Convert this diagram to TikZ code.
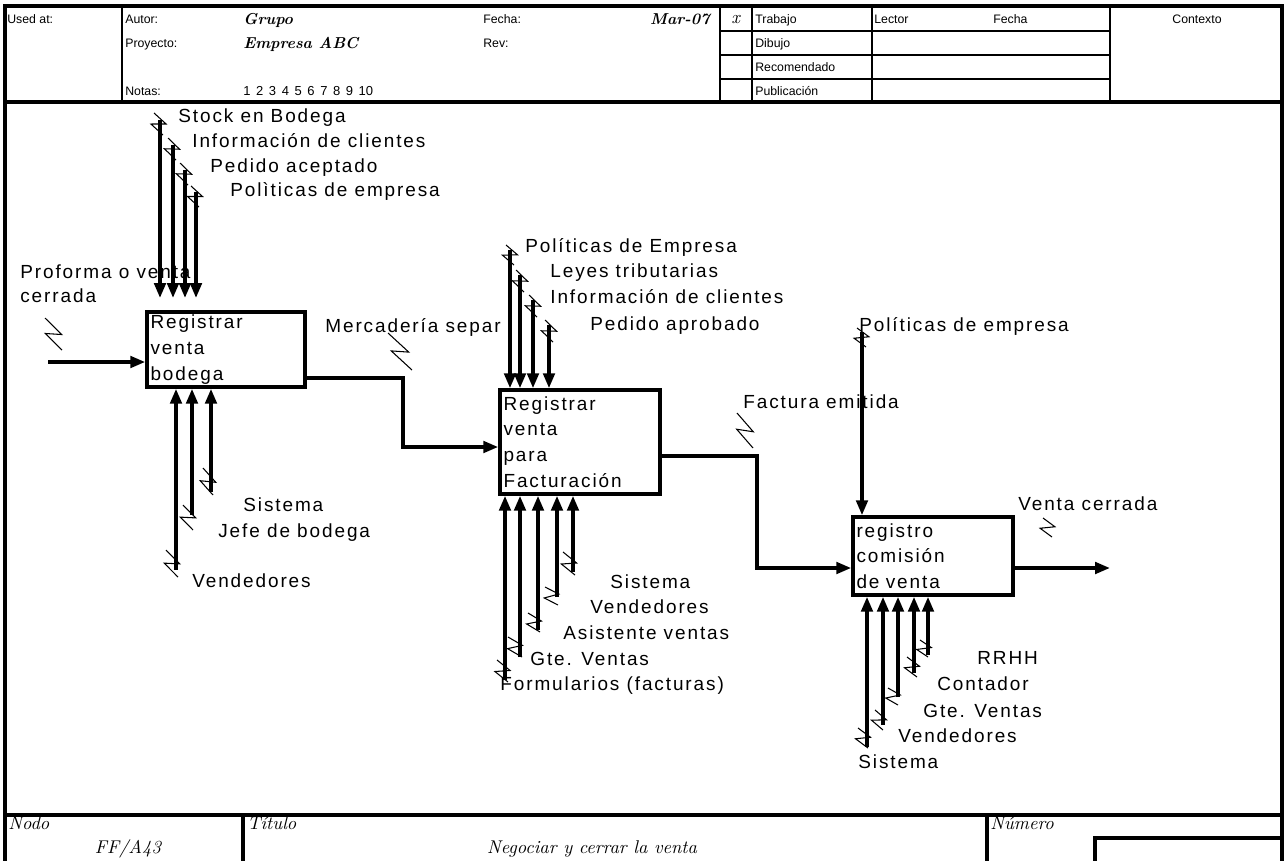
\documentclass[tikz,border=0pt]{standalone}
\usepackage{fontspec}
\usepackage{tikz}
\usetikzlibrary{arrows.meta, positioning, calc}
\newfontfamily\arialfont{Liberation Sans}
\newfontfamily\flowfont{Liberation Sans}[LetterSpace=10]

\newcommand\squig[2]{\draw[squigline] (#1) -- ($(#1)!0.62!(#2)!4pt!90:(#2)$) -- ($(#1)!0.38!(#2)!4pt!-90:(#2)$) -- (#2);}

\begin{document}
\begin{tikzpicture}[
    x=0.02cm, y=-0.02cm,
    border/.style={line width=2pt},
    rule/.style={line width=1.5pt},
    proc/.style={
        draw, line width=2pt, rectangle,
        inner xsep=2pt, inner ysep=1pt, align=left,
        font=\flowfont\fontsize{10.8}{14.6}\selectfont
    },
    lbl/.style={anchor=base west, inner sep=0pt, font=\flowfont\fontsize{10.8}{12}\selectfont},
    hdr/.style={anchor=base west, inner sep=0pt, font=\arialfont\fontsize{7}{8}\selectfont},
    hand/.style={anchor=base west, inner sep=0pt, font=\rmfamily\itshape\fontsize{10.5}{11}\selectfont},
    handbold/.style={anchor=base west, inner sep=0pt, font=\rmfamily\bfseries\itshape\fontsize{9}{10}\selectfont},
    arr/.style={-{Triangle[length=8.5pt, width=6.5pt]}, line width=2pt},
    squigline/.style={line width=0.6pt},
]
\useasboundingbox (0,0) rectangle (1286,860);

% sheet frame
\draw[border] (5,865) -- (5,6) -- (1282,6) -- (1282,865);
\draw[border] (5,102) -- (1282,102);
\draw[border] (5,815) -- (1282,815);
\draw[rule] (122,6) -- (122,102);
\draw[rule] (720,6) -- (720,102);
\draw[rule] (752,6) -- (752,102);
\draw[rule] (872,6) -- (872,102);
\draw[rule] (1110,6) -- (1110,102);
\draw[rule] (720,31) -- (1110,31);
\draw[rule] (720,55) -- (1110,55);
\draw[rule] (720,79) -- (1110,79);
\draw[border] (243,815) -- (243,865);
\draw[border] (987,815) -- (987,865);
\draw[border] (1095,865) -- (1095,838) -- (1282,838);

% header
\node[hdr] (usedAt) at (7,23) {Used at:};
\node[hdr] (autor) at (125,23) {Autor:};
\node[handbold] (grupo) at (243,24) {Grupo};
\node[hdr] (fecha) at (483,23) {Fecha:};
\node[handbold, anchor=base east] (mar) at (710,24) {Mar-07};
\node[hand] (xmark) at (731,23) {x};
\node[hdr] (trabajo) at (755,23) {Trabajo};
\node[hdr] (lector) at (874,23) {Lector};
\node[hdr] (fechaLect) at (993,23) {Fecha};
\node[hdr, anchor=base] (contexto) at (1197,23) {Contexto};
\node[hdr] (proyecto) at (125,47) {Proyecto:};
\node[handbold] (empresa) at (243,48) {Empresa ABC};
\node[hdr] (rev) at (483,47) {Rev:};
\node[hdr] (dibujo) at (755,47) {Dibujo};
\node[hdr] (recomendado) at (755,71) {Recomendado};
\node[hdr] (notas) at (125,95) {Notas:};
\node[hdr, font=\arialfont\fontsize{7.4}{8}\selectfont] (numeros) at (243,95) {\spaceskip=0.43em\relax 1 2 3 4 5 6 7 8 9 10};
\node[hdr] (publicacion) at (755,95) {Publicación};

% footer
\node[hand] (nodo) at (8,829) {Nodo};
\node[hand, anchor=base] (ffa) at (128,853) {FF/A43};
\node[hand] (titulo) at (247,829) {Título};
\node[hand, anchor=base] (negociar) at (592,853) {Negociar y cerrar la venta};
\node[hand] (numero) at (990,829) {Número};

% activities
\node[proc, text width=3.02cm, minimum height=1.5cm] (regA) at (226,349.5) {Registrar\\venta\\bodega};
\node[proc, text width=3.06cm, minimum height=2.08cm] (regB) at (580,442) {Registrar\\venta\\para\\Facturación};
\node[proc, text width=3.06cm, minimum height=1.56cm] (regC) at (933,556) {registro\\comisión\\de venta};

% labels
\node[lbl] (lProforma) at (20,278) {Proforma o venta};
\node[lbl] (lCerrada) at (20,302) {cerrada};
\node[lbl] (lStock) at (178,122) {Stock en Bodega};
\node[lbl] (lInfoA) at (192,147) {Información de clientes};
\node[lbl] (lPedidoA) at (210,172) {Pedido aceptado};
\node[lbl] (lPolA) at (230,196) {Polìticas de empresa};
\node[lbl] (lSistA) at (243,511) {Sistema};
\node[lbl] (lJefe) at (218,537) {Jefe de bodega};
\node[lbl] (lVendA) at (192,587) {Vendedores};
\node[lbl] (lMerc) at (325,332) {Mercadería separ};
\node[lbl] (lPolB) at (525,252) {Políticas de Empresa};
\node[lbl] (lLeyes) at (550,277) {Leyes tributarias};
\node[lbl] (lInfoB) at (550,303) {Información de clientes};
\node[lbl] (lPedidoB) at (590,330) {Pedido aprobado};
\node[lbl] (lSistB) at (610,588) {Sistema};
\node[lbl] (lVendB) at (590,613) {Vendedores};
\node[lbl] (lAsist) at (563,639) {Asistente ventas};
\node[lbl] (lGteB) at (530,665) {Gte. Ventas};
\node[lbl] (lForm) at (500,690) {Formularios (facturas)};
\node[lbl] (lFact) at (743,408) {Factura emitida};
\node[lbl] (lPolC) at (859,331) {Políticas de empresa};
\node[lbl] (lVenta) at (1018,510) {Venta cerrada};
\node[lbl] (lRRHH) at (977,664) {RRHH};
\node[lbl] (lCont) at (937,690) {Contador};
\node[lbl] (lGteC) at (923,717) {Gte. Ventas};
\node[lbl] (lVendC) at (898,742) {Vendedores};
\node[lbl] (lSistC) at (858,768) {Sistema};

% free ends
\coordinate (inA) at (48,362);
\coordinate (stopA) at (0,298);
\coordinate (ctlA1) at (160,120);
\coordinate (ctlA2) at (173,145);
\coordinate (ctlA3) at (185,170);
\coordinate (ctlA4) at (196,192);
\coordinate (mecA1) at (176,570);
\coordinate (mecA2) at (192,515);
\coordinate (mecA3) at (211,492);
\coordinate (ab1) at (403,378);
\coordinate (ab2) at (403,447);
\coordinate (ctlB1) at (510,250);
\coordinate (ctlB2) at (520,275);
\coordinate (ctlB3) at (533,300);
\coordinate (ctlB4) at (549,325);
\coordinate (mecB1) at (505,680);
\coordinate (mecB2) at (520,657);
\coordinate (mecB3) at (538,630);
\coordinate (mecB4) at (557,597);
\coordinate (mecB5) at (573,572);
\coordinate (bc1) at (757,456);
\coordinate (bc2) at (757,568);
\coordinate (ctlC1) at (862,332);
\coordinate (mecC1) at (867,747);
\coordinate (mecC2) at (883,725);
\coordinate (mecC3) at (898,697);
\coordinate (mecC4) at (914,673);
\coordinate (mecC5) at (928,655);
\coordinate (outC) at (1110,568);

% arrows
\draw[arr] (inA) -- (inA -| regA.west);
\draw[arr] (ctlA1) -- (ctlA1 |- stopA);
\draw[arr] (ctlA2) -- (ctlA2 |- stopA);
\draw[arr] (ctlA3) -- (ctlA3 |- stopA);
\draw[arr] (ctlA4) -- (ctlA4 |- stopA);
\draw[arr] (mecA1) -- (mecA1 |- regA.south);
\draw[arr] (mecA2) -- (mecA2 |- regA.south);
\draw[arr] (mecA3) -- (mecA3 |- regA.south);
\draw[arr] (regA.east |- ab1) -- (ab1) -- (ab2) -- (regB.west |- ab2);
\draw[arr] (ctlB1) -- (ctlB1 |- regB.north);
\draw[arr] (ctlB2) -- (ctlB2 |- regB.north);
\draw[arr] (ctlB3) -- (ctlB3 |- regB.north);
\draw[arr] (ctlB4) -- (ctlB4 |- regB.north);
\draw[arr] (mecB1) -- (mecB1 |- regB.south);
\draw[arr] (mecB2) -- (mecB2 |- regB.south);
\draw[arr] (mecB3) -- (mecB3 |- regB.south);
\draw[arr] (mecB4) -- (mecB4 |- regB.south);
\draw[arr] (mecB5) -- (mecB5 |- regB.south);
\draw[arr] (regB.east |- bc1) -- (bc1) -- (bc2) -- (regC.west |- bc2);
\draw[arr] (ctlC1) -- (ctlC1 |- regC.north);
\draw[arr] (mecC1) -- (mecC1 |- regC.south);
\draw[arr] (mecC2) -- (mecC2 |- regC.south);
\draw[arr] (mecC3) -- (mecC3 |- regC.south);
\draw[arr] (mecC4) -- (mecC4 |- regC.south);
\draw[arr] (mecC5) -- (mecC5 |- regC.south);
\draw[arr] (regC.east |- outC) -- (outC);

% squiggles
\squig{45,318}{62,350}
\squig{154,113}{163,135}
\squig{168,138}{176,160}
\squig{180,163}{188,185}
\squig{191,186}{199,207}
\squig{166,550}{178,577}
\squig{183,505}{193,530}
\squig{203,468}{213,495}
\squig{388,333}{412,370}
\squig{506,245}{514,265}
\squig{516,270}{524,292}
\squig{529,295}{537,317}
\squig{545,320}{553,342}
\squig{497,660}{508,682}
\squig{508,637}{522,657}
\squig{528,613}{540,632}
\squig{545,587}{558,605}
\squig{563,552}{575,575}
\squig{737,413}{753,448}
\squig{857,328}{866,347}
\squig{1043,518}{1052,537}
\squig{858,728}{868,748}
\squig{875,710}{883,730}
\squig{888,688}{898,705}
\squig{907,657}{917,677}
\squig{920,640}{928,657}
\end{tikzpicture}
\end{document}
